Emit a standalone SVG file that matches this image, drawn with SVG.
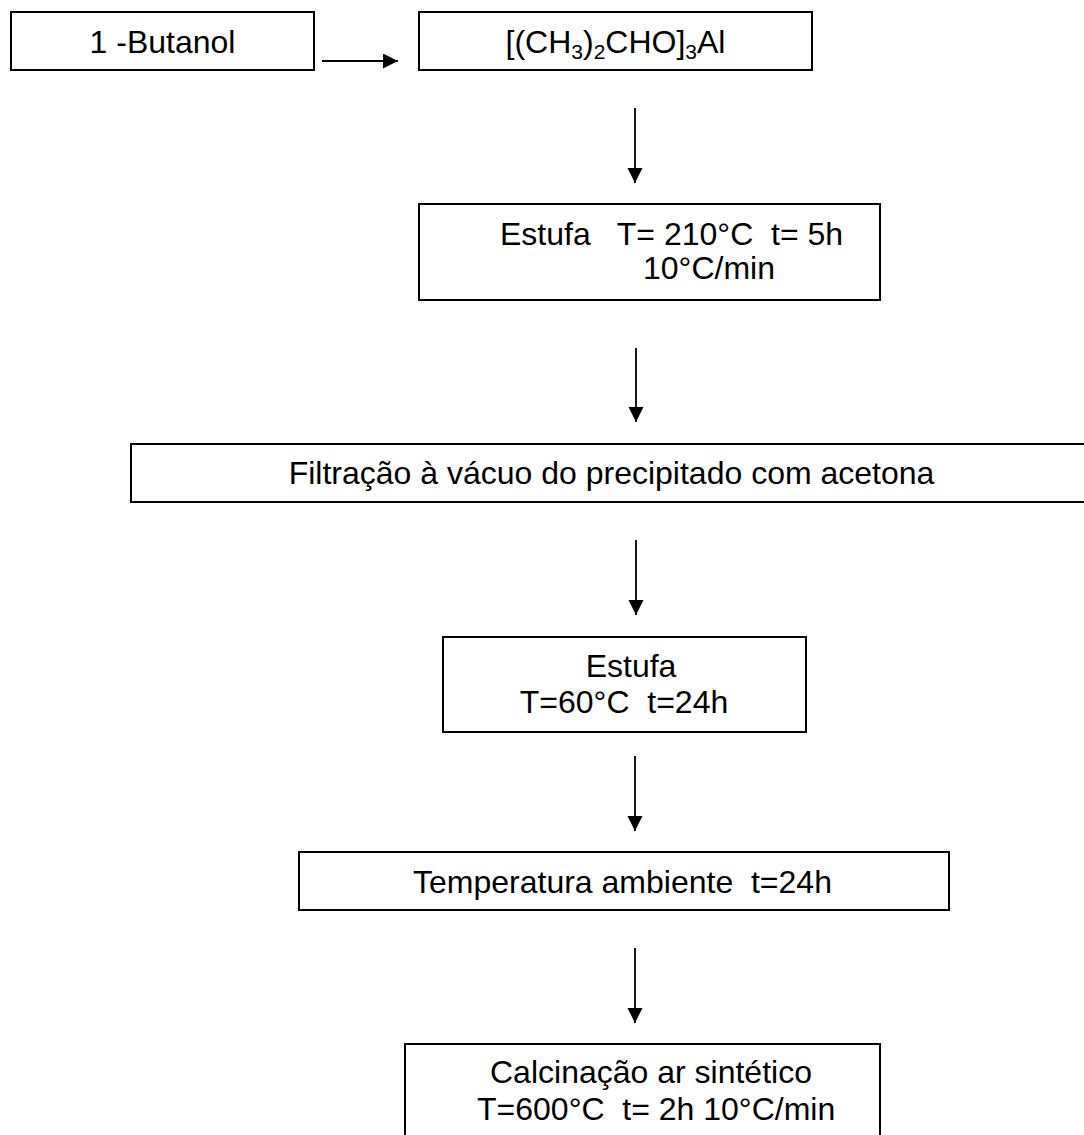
<svg xmlns="http://www.w3.org/2000/svg" width="1084" height="1135" viewBox="0 0 1084 1135">
<defs>
<style>
.box{fill:#fff;stroke:#000;stroke-width:2}
.t{font-family:"Liberation Sans",Arial,sans-serif;font-size:32px;fill:#000}
.m{text-anchor:middle}
.sub{font-size:21px}
.c{stroke:#000;stroke-width:1.8;fill:none;marker-end:url(#ah)}
</style>
<marker id="ah" markerUnits="userSpaceOnUse" markerWidth="16" markerHeight="16" refX="15" refY="7.5" orient="auto">
<path d="M0,0 L15,7.5 L0,15 Z" fill="#000"/>
</marker>
</defs>
<rect width="1084" height="1135" fill="#fff"/>
<g id="n1"><rect class="box" x="11" y="12" width="303" height="58"/><text class="t m" x="162.5" y="53">1 -Butanol</text></g>
<g id="n2"><rect class="box" x="419" y="12" width="393" height="58"/><text class="t m" x="615.5" y="53">[(CH<tspan class="sub" dy="6">3</tspan><tspan dy="-6">)</tspan><tspan class="sub" dy="6">2</tspan><tspan dy="-6">CHO]</tspan><tspan class="sub" dy="6">3</tspan><tspan dy="-6">Al</tspan></text></g>
<g id="n3"><rect class="box" x="419" y="204" width="461" height="96"/><text class="t" x="500" y="245" xml:space="preserve">Estufa   T= 210°C  t= 5h</text><text class="t" x="643" y="279">10°C/min</text></g>
<g id="n4"><rect class="box" x="131" y="444" width="965" height="58"/><text class="t m" x="611.5" y="484">Filtração à vácuo do precipitado com acetona</text></g>
<g id="n5"><rect class="box" x="443" y="637" width="363" height="95"/><text class="t m" x="631" y="677">Estufa</text><text class="t m" x="624" y="713" xml:space="preserve">T=60°C  t=24h</text></g>
<g id="n6"><rect class="box" x="299" y="852" width="650" height="58"/><text class="t" x="413" y="893" xml:space="preserve">Temperatura ambiente  t=24h</text></g>
<g id="n7"><rect class="box" x="405" y="1044" width="475" height="110"/><text class="t" x="490" y="1083">Calcinação ar sintético</text><text class="t" x="477" y="1120" xml:space="preserve">T=600°C  t= 2h 10°C/min</text></g>
<g id="connectors">
<line class="c" x1="322" y1="61" x2="398" y2="61"/>
<line class="c" x1="635" y1="108" x2="635" y2="183"/>
<line class="c" x1="636" y1="348" x2="636" y2="422"/>
<line class="c" x1="636" y1="540" x2="636" y2="615"/>
<line class="c" x1="635" y1="756" x2="635" y2="831"/>
<line class="c" x1="635" y1="948" x2="635" y2="1023"/>
</g>
</svg>
